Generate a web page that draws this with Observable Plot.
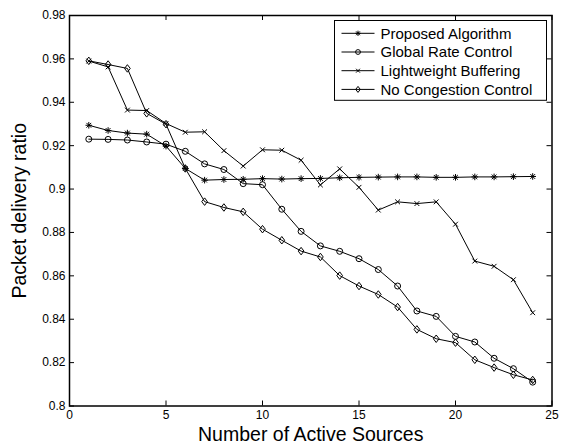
<!DOCTYPE html>
<html>
<head>
<meta charset="utf-8">
<script src="https://cdn.jsdelivr.net/npm/d3@7"></script>
<script src="https://cdn.jsdelivr.net/npm/@observablehq/plot@0.6"></script>
<style>
  html, body { margin: 0; padding: 0; background: #fff; }
  svg { display: block; }
</style>
</head>
<body>
<div id="chart"></div>
<script>
// ---- data ----
const sources = [1,2,3,4,5,6,7,8,9,10,11,12,13,14,15,16,17,18,19,20,21,22,23,24];
const seriesNames = ["Proposed Algorithm", "Global Rate Control", "Lightweight Buffering", "No Congestion Control"];
const proposed = [0.9294,0.9270,0.9258,0.9253,0.9198,0.9095,0.9041,0.9044,0.9045,0.9048,0.9046,0.9048,0.9049,0.9052,0.9054,0.9055,0.9056,0.9056,0.9054,0.9054,0.9056,0.9056,0.9057,0.9058];
const globalRate = [0.9230,0.9229,0.9226,0.9217,0.9207,0.9174,0.9116,0.9090,0.9025,0.9020,0.8907,0.8805,0.8738,0.8713,0.8679,0.8629,0.8553,0.8438,0.8413,0.8321,0.8295,0.8220,0.8172,0.8110];
const lightweight = [0.9590,0.9563,0.9364,0.9362,0.9302,0.9262,0.9264,0.9177,0.9106,0.9181,0.9179,0.9133,0.9019,0.9093,0.9008,0.8903,0.8941,0.8933,0.8941,0.8838,0.8668,0.8644,0.8582,0.8430];
const noCongestion = [0.9591,0.9574,0.9556,0.9349,0.9299,0.9095,0.8942,0.8915,0.8895,0.8815,0.8764,0.8714,0.8687,0.8601,0.8553,0.8514,0.8456,0.8353,0.8310,0.8292,0.8213,0.8177,0.8144,0.8120];
const xTicks = [0,5,10,15,20,25];
const xTickLabels = ["0","5","10","15","20","25"];
const yTicks = [0.8,0.82,0.84,0.86,0.88,0.9,0.92,0.94,0.96,0.98];
const yTickLabels = ["0.8","0.82","0.84","0.86","0.88","0.9","0.92","0.94","0.96","0.98"];
const xLabel = "Number of Active Sources";
const yLabel = "Packet delivery ratio";

// ---- MATLAB-like marker symbols ----
const symAsterisk = { draw(ctx, size) { const r = Math.sqrt(size/Math.PI)*1.1; const d = r*0.72;
  ctx.moveTo(-r,0); ctx.lineTo(r,0); ctx.moveTo(0,-r); ctx.lineTo(0,r);
  ctx.moveTo(-d,-d); ctx.lineTo(d,d); ctx.moveTo(-d,d); ctx.lineTo(d,-d); } };
const symCircle = { draw(ctx, size) { const r = Math.sqrt(size/Math.PI); ctx.moveTo(r,0); ctx.arc(0,0,r,0,2*Math.PI); } };
const symTimes = { draw(ctx, size) { const d = Math.sqrt(size/Math.PI)*0.8;
  ctx.moveTo(-d,-d); ctx.lineTo(d,d); ctx.moveTo(-d,d); ctx.lineTo(d,-d); } };
const symDiamond = { draw(ctx, size) { const r = Math.sqrt(size/Math.PI); const w = r*0.95, h = r*1.25;
  ctx.moveTo(0,-h); ctx.lineTo(w,0); ctx.lineTo(0,h); ctx.lineTo(-w,0); ctx.closePath(); } };
const symbols = [symAsterisk, symCircle, symTimes, symDiamond];
const valueLists = [proposed, globalRate, lightweight, noCongestion];

const rows = [];
seriesNames.forEach((name, s) => sources.forEach((x, i) => rows.push({series: name, s, x, y: valueLists[s][i]})));

const W = 572, H = 445;
const mL = 69, mR = 20.5, mT = 15, mB = 39.5;
const innerW = W - mL - mR, innerH = H - mT - mB;
const tickLen = 5;

const marks = [
  Plot.line(rows, {x: "x", y: "y", z: "series", stroke: "black", strokeWidth: 1}),
  ...symbols.map((sym, s) => Plot.dot(rows.filter(d => d.s === s), {x: "x", y: "y", r: 3, symbol: sym, stroke: "black", fill: "none", strokeWidth: 1})),
  // inward ticks (MATLAB style, on all four sides)
  Plot.tickX(xTicks, {x: d => d, insetTop: innerH - tickLen, stroke: "black", strokeWidth: 1}),
  Plot.tickX(xTicks, {x: d => d, insetBottom: innerH - tickLen, stroke: "black", strokeWidth: 1}),
  Plot.tickY(yTicks, {y: d => d, insetRight: innerW - tickLen, stroke: "black", strokeWidth: 1}),
  Plot.tickY(yTicks, {y: d => d, insetLeft: innerW - tickLen, stroke: "black", strokeWidth: 1}),
  Plot.axisX(xTicks, {tickSize: 0, tickPadding: 4, label: null, tickFormat: (d, i) => xTickLabels[i], fontSize: 12}),
  Plot.axisY(yTicks, {tickSize: 0, tickPadding: 4, label: null, tickFormat: (d, i) => yTickLabels[i], fontSize: 12}),
  Plot.frame({stroke: "black", strokeWidth: 1.5}),
  Plot.text([xLabel], {text: d => d, frameAnchor: "bottom", dy: 28.5, textAnchor: "middle", lineAnchor: "middle", fontSize: 19.5}),
  Plot.text([yLabel], {text: d => d, frameAnchor: "left", dx: -50, rotate: -90, textAnchor: "middle", lineAnchor: "middle", fontSize: 19.5})
];

const chart = Plot.plot({
  width: W, height: H,
  marginLeft: mL, marginRight: mR, marginTop: mT, marginBottom: mB,
  x: {domain: [0, 25]},
  y: {domain: [0.8, 0.98]},
  style: {fontFamily: "'Liberation Sans', Arial, Helvetica, sans-serif", color: "black", background: "white", overflow: "visible"},
  marks
});

// ---- legend box (inside upper-right of the axes) ----
const svg = d3.select(chart);
const lg = svg.append("g").attr("font-family", "'Liberation Sans', Arial, sans-serif").attr("text-anchor", "start");
const boxRight = W - mR - 5, boxTop = mT + 5.5, boxW = 212, rowH = 18.7;
const boxLeft = boxRight - boxW;
lg.append("rect").attr("x", boxLeft).attr("y", boxTop).attr("width", boxW).attr("height", rowH * seriesNames.length + 5)
  .attr("fill", "white").attr("stroke", "black").attr("stroke-width", 1);
seriesNames.forEach((name, i) => {
  const cy = boxTop + 12.8 + i * rowH;
  lg.append("line").attr("x1", boxLeft + 7).attr("x2", boxLeft + 40).attr("y1", cy).attr("y2", cy).attr("stroke", "black").attr("stroke-width", 1);
  lg.append("path").attr("transform", `translate(${boxLeft + 23.5},${cy})`)
    .attr("d", d3.symbol(symbols[i], Math.PI * 2.4 * 2.4)()).attr("fill", "none").attr("stroke", "black").attr("stroke-width", 1);
  lg.append("text").attr("x", boxLeft + 46).attr("y", cy).attr("dy", "0.35em").attr("font-size", 15).attr("fill", "black").attr("text-anchor", "start").text(name);
});

document.getElementById("chart").appendChild(chart);
</script>
</body>
</html>
